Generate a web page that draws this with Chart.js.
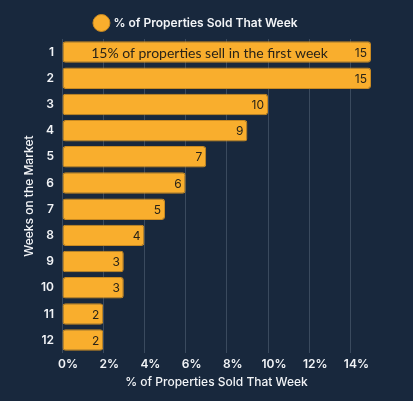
<!DOCTYPE html>
<html>
<head>
<meta charset="utf-8">
<script src="https://cdn.jsdelivr.net/npm/chart.js@4"></script>
<style>
  html, body { margin: 0; padding: 0; background: #18283d; }
  #wrap { width: 413px; height: 401px; }
</style>
</head>
<body>
<div id="wrap"><canvas id="c" width="413" height="401"></canvas></div>
<script>
// Weeks on the market vs share of properties sold that week
const weeks = ['1', '2', '3', '4', '5', '6', '7', '8', '9', '10', '11', '12'];
const pctSold = [15, 15, 10, 9, 7, 6, 5, 4, 3, 3, 2, 2];
const xTicks = [0, 2, 4, 6, 8, 10, 12, 14];
const seriesName = '% of Properties Sold That Week';
const axisTitleY = 'Weeks on the Market';
const note = '15% of properties sell in the first week';

const FONT = 'Inter, "Open Sans", sans-serif';
const ORANGE = '#f9ae2d';
const WHITE = '#f2f4f7';

// value labels at bar ends + note in the first bar
const barText = {
    id: 'barText',
    afterDatasetsDraw(chart) {
        const ctx = chart.ctx;
        const meta = chart.getDatasetMeta(0);
        ctx.save();
        ctx.fillStyle = '#2a2418';
        ctx.textBaseline = 'middle';
        ctx.font = '12px ' + FONT;
        ctx.textAlign = 'right';
        meta.data.forEach((bar, i) => {
            ctx.fillText(String(pctSold[i]), bar.x - 4, bar.y + 1);
        });
        const x0 = chart.scales.x.getPixelForValue(0);
        const first = meta.data[0];
        ctx.font = '14px Lato, ' + FONT;
        ctx.textAlign = 'center';
        ctx.fillText(note, (x0 + first.x) / 2 - 7, first.y + 1);
        ctx.restore();
    }
};

new Chart(document.getElementById('c'), {
    type: 'bar',
    data: {
        labels: weeks,
        datasets: [{
            label: seriesName,
            data: pctSold,
            backgroundColor: ORANGE,
            borderColor: '#c98a22',
            borderWidth: 1,
            borderRadius: 3,
            borderSkipped: false,
            barPercentage: 0.82,
            categoryPercentage: 1
        }]
    },
    options: {
        indexAxis: 'y',
        responsive: false,
        animation: false,
        layout: { padding: { left: 22, right: 42, top: 2, bottom: 7 } },
        plugins: {
            legend: {
                labels: {
                    usePointStyle: true,
                    pointStyle: 'circle',
                    boxWidth: 12,
                    boxHeight: 12,
                    color: WHITE,
                    font: { family: FONT, size: 12, weight: '600' },
                    padding: 15
                }
            },
            tooltip: { enabled: false }
        },
        scales: {
            x: {
                min: 0,
                max: 15,
                afterBuildTicks(scale) {
                    scale.ticks = xTicks.map(v => ({ value: v }));
                },
                ticks: {
                    color: WHITE,
                    font: { family: FONT, size: 12, weight: '600' },
                    callback: v => v + '%',
                    padding: 4,
                    labelOffset: 6
                },
                grid: { color: '#3a4a5e', drawTicks: false },
                border: { display: false },
                title: {
                    display: true,
                    text: seriesName,
                    color: WHITE,
                    font: { family: FONT, size: 12, weight: '500' },
                    padding: { top: 0 }
                }
            },
            y: {
                afterFit(scale) { scale.width = 40; },
                ticks: {
                    color: WHITE,
                    font: { family: FONT, size: 12, weight: '600' },
                    padding: 8
                },
                grid: { display: false, drawTicks: false },
                border: { display: false },
                title: {
                    display: true,
                    text: axisTitleY,
                    color: WHITE,
                    font: { family: FONT, size: 12, weight: '500' },
                    padding: { top: 0, bottom: 1 }
                }
            }
        }
    },
    plugins: [barText]
});
</script>
</body>
</html>
